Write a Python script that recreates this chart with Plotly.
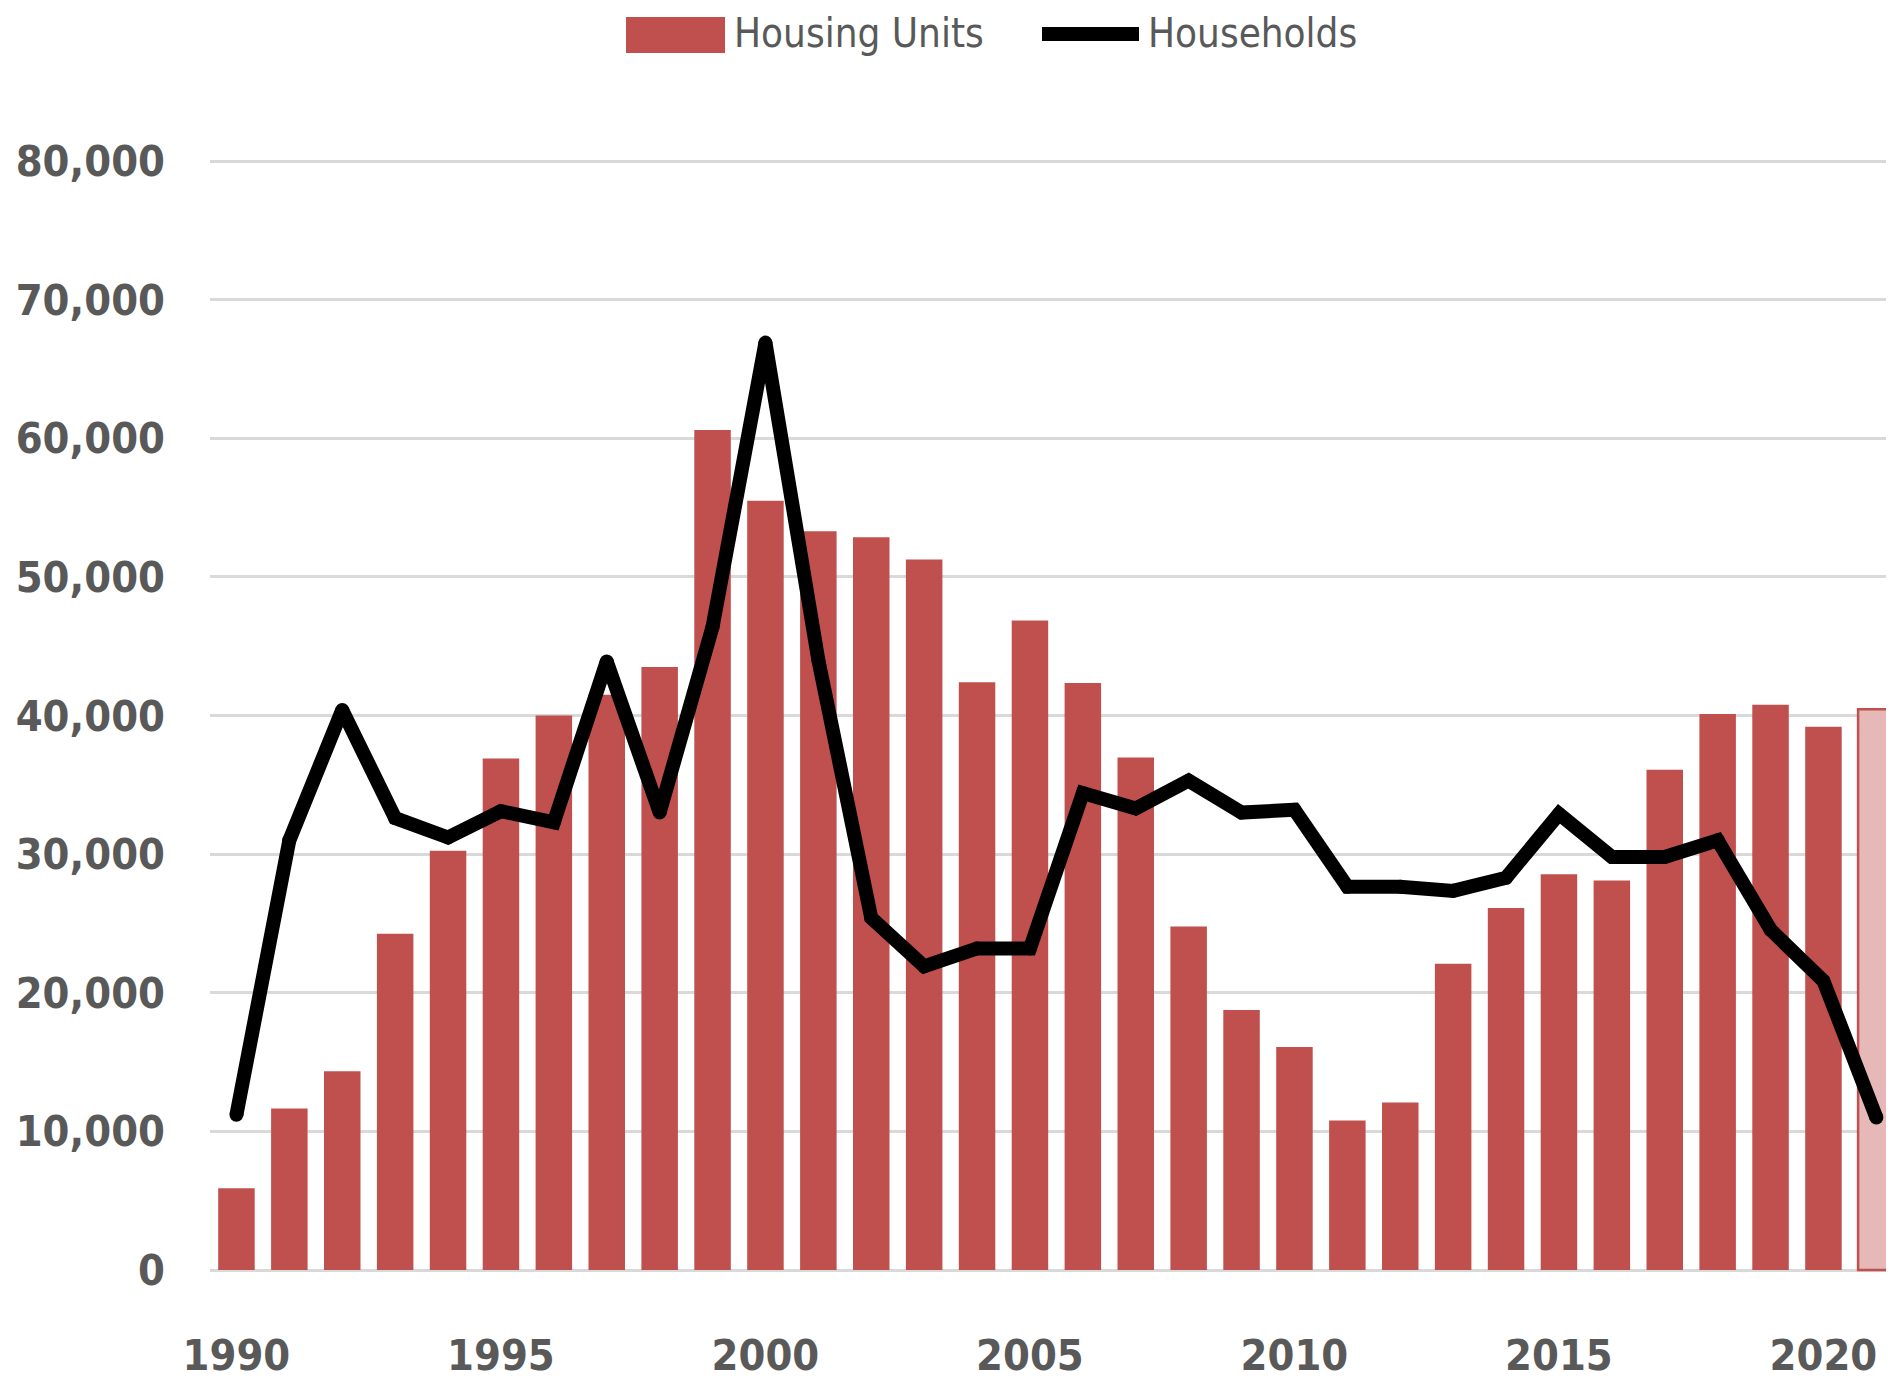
import plotly.graph_objects as go

# ---- data ----
years = list(range(1990, 2022))
housing_units = [5900, 11650, 14340, 24260, 30250, 36900, 40000, 41500, 43500, 60600,
                 55500, 53300, 52850, 51250, 42400, 46850, 42350, 36970, 24780, 18750,
                 16080, 10780, 12090, 22090, 26120, 28540, 28100, 36090, 40100, 40770,
                 39180, 40450]
households = [11200, 31000, 40400, 32600, 31200, 33100, 32300, 43900, 33000, 46400,
              66900, 44000, 25400, 21900, 23200, 23200, 34400, 33300, 35300, 33000,
              33200, 27650, 27650, 27350, 28300, 32900, 29800, 29800, 31000, 24550,
              20850, 11000]
x_tick_vals = [1990, 1995, 2000, 2005, 2010, 2015, 2020]
y_tick_vals = [0, 10000, 20000, 30000, 40000, 50000, 60000, 70000, 80000]
series_names = ["Housing Units", "Households"]

# ---- style ----
W, H = 1894, 1385
OFF = 8                      # page body margin shifts the figure by 8px
PAD = 2                      # extra pixels so the top gridline is drawn inside the plot
ML = 210 - OFF
MR = OFF
MT = 161 - OFF - PAD
MB = H - (1270 - OFF) - PAD
BAR = "#C0504D"
BAR_LAST = "#E6B8B7"
TXT = "#595959"
GRID = "#D9D9D9"
FONT = "Liberation Sans Narrow, Arial Narrow, DejaVu Sans Condensed, sans-serif"
TICK_SIZE = 43
LEG_SIZE = 40
LINE_W = 14

bar_colors = [BAR] * (len(years) - 1) + [BAR_LAST]
bar_line_w = [0] * (len(years) - 1) + [2.5]

fig = go.Figure()
fig.add_trace(go.Bar(
    x=years, y=housing_units, name=series_names[0],
    marker=dict(color=bar_colors, line=dict(color=BAR, width=bar_line_w)),
    showlegend=False,
))
fig.add_trace(go.Scatter(
    x=years, y=households, name=series_names[1], mode="lines+markers",
    line=dict(color="#000000", width=LINE_W),
    marker=dict(color="#000000", size=LINE_W, line=dict(width=0)),
    showlegend=False,
))

plot_w = W - ML - MR
plot_h = H - MT - MB
y_span = 80000 * plot_h / (plot_h - 2 * PAD)
y_lo = -(y_span - 80000) / 2
y_hi = 80000 - y_lo


def px_x(p):
    return (p - OFF - ML) / plot_w


def px_y(p):
    return (H - MB - (p - OFF)) / plot_h


# custom legend (large swatches like the original)
fig.add_shape(type="rect", xref="paper", yref="paper",
              x0=px_x(626), x1=px_x(725), y0=px_y(53), y1=px_y(17),
              fillcolor=BAR, line=dict(width=0))
fig.add_shape(type="line", xref="paper", yref="paper",
              x0=px_x(1042), x1=px_x(1139), y0=px_y(34), y1=px_y(34),
              line=dict(color="#000000", width=LINE_W))
fig.add_annotation(xref="paper", yref="paper", x=px_x(732), y=px_y(33),
                   text=series_names[0], showarrow=False, xanchor="left", yanchor="middle",
                   font=dict(family=FONT, size=LEG_SIZE, color=TXT))
fig.add_annotation(xref="paper", yref="paper", x=px_x(1146), y=px_y(33),
                   text=series_names[1], showarrow=False, xanchor="left", yanchor="middle",
                   font=dict(family=FONT, size=LEG_SIZE, color=TXT))

fig.update_layout(
    width=W, height=H,
    margin=dict(l=ML, r=MR, t=MT, b=MB, pad=0, autoexpand=False),
    paper_bgcolor="white", plot_bgcolor="white",
    bargap=0.31,
    font=dict(family=FONT, color=TXT),
)
fig.update_xaxes(
    range=[1989.5, 1989.5 + (W - 210) / 52.9],
    tickmode="array", tickvals=x_tick_vals, ticktext=[str(v) for v in x_tick_vals],
    tickfont=dict(family=FONT, size=TICK_SIZE, color=TXT, weight="bold"),
    showgrid=False, showline=False, zeroline=False, ticks="",
    ticklabelstandoff=54, automargin=False,
)
fig.update_yaxes(
    range=[y_lo, y_hi],
    tickmode="array", tickvals=y_tick_vals,
    ticktext=[f"{v:,}" for v in y_tick_vals],
    tickfont=dict(family=FONT, size=TICK_SIZE, color=TXT, weight="bold"),
    showgrid=True, gridcolor=GRID, gridwidth=3,
    zeroline=True, zerolinecolor=GRID, zerolinewidth=3,
    showline=False, ticks="",
    ticklabelstandoff=44, automargin=False,
)

fig.write_html("out.html")
